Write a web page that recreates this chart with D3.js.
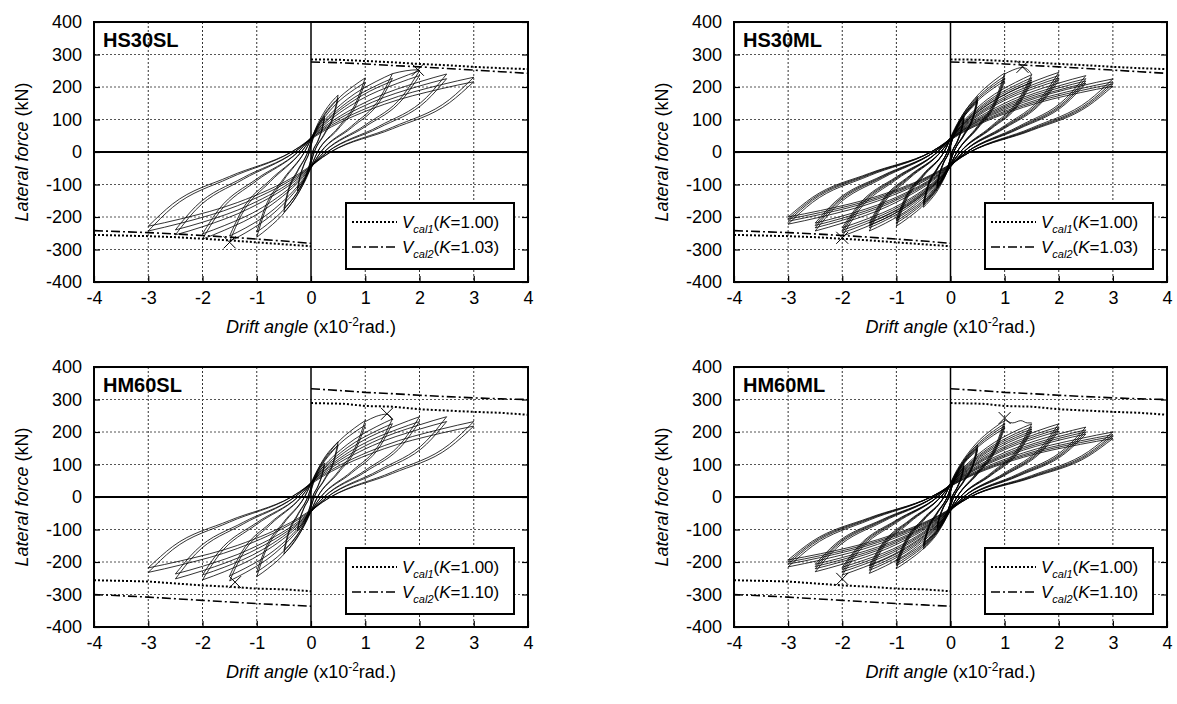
<!DOCTYPE html>
<html>
<head>
<meta charset="utf-8">
<script src="https://cdnjs.cloudflare.com/ajax/libs/d3/7.8.5/d3.min.js"></script>
<style>
  body { margin: 0; background: #fff; }
  svg { display: block; }
  text { font-family: "Liberation Sans", Arial, sans-serif; fill: #000; }
</style>
</head>
<body>
<div id="chart"></div>
<script>
// ---- données ----
var xTicks = [-4, -3, -2, -1, 0, 1, 2, 3, 4];
var yTicks = [-400, -300, -200, -100, 0, 100, 200, 300, 400];

// amplitudes de chargement (x10^-2 rad)
var amps = [0.25, 0.5, 1, 1.5, 2, 2.5, 3];

// abscisses des branches (montée = "up", descente = "lo"), par amplitude
var upX = [
  [-0.25, -0.21, -0.13, -0.03, 0.02, 0.11, 0.2, 0.25],
  [-0.5, -0.43, -0.25, -0.06, 0.04, 0.23, 0.4, 0.5],
  [-1, -0.85, -0.5, -0.12, 0.08, 0.45, 0.8, 1],
  [-1.5, -1.28, -0.75, -0.18, 0.12, 0.68, 1.2, 1.5],
  [-2, -1.7, -1, -0.24, 0.16, 0.9, 1.6, 2],
  [-2.5, -2.13, -1.25, -0.3, 0.2, 1.13, 2, 2.5],
  [-3, -2.55, -1.5, -0.36, 0.24, 1.35, 2.4, 3]
];
var loX = [
  [-0.25, -0.2, -0.11, -0.02, 0.03, 0.13, 0.21, 0.25],
  [-0.5, -0.4, -0.23, -0.04, 0.06, 0.25, 0.43, 0.5],
  [-1, -0.8, -0.45, -0.08, 0.12, 0.5, 0.85, 1],
  [-1.5, -1.2, -0.68, -0.12, 0.18, 0.75, 1.28, 1.5],
  [-2, -1.6, -0.9, -0.16, 0.24, 1, 1.7, 2],
  [-2.5, -2, -1.13, -0.2, 0.3, 1.25, 2.13, 2.5],
  [-3, -2.4, -1.35, -0.24, 0.36, 1.5, 2.55, 3]
];

// HS30SL
var upF_HS30SL = [
  [-120, -84, -40, 0, 33, 75, 99, 110],
  [-185, -130, -61, 0, 53, 119, 158, 175],
  [-262, -183, -86, 0, 68, 155, 205, 228],
  [-275, -193, -91, 0, 72, 164, 217, 241],
  [-268, -188, -88, 0, 75, 170, 225, 250],
  [-255, -179, -84, 0, 72, 163, 216, 240],
  [-243, -170, -80, 0, 69, 156, 207, 230]
];
var loF_HS30SL = [
  [-120, -108, -82, -36, 0, 36, 77, 110],
  [-185, -167, -126, -56, 0, 58, 123, 175],
  [-262, -236, -178, -79, 0, 75, 160, 228],
  [-275, -248, -187, -83, 0, 80, 169, 241],
  [-268, -241, -182, -80, 0, 83, 175, 250],
  [-255, -230, -173, -77, 0, 79, 168, 240],
  [-243, -219, -165, -73, 0, 76, 161, 230]
];
// HS30ML
var upF_HS30ML = [
  [-110, -77, -36, 0, 33, 75, 99, 110],
  [-170, -119, -56, 0, 51, 116, 153, 170],
  [-228, -160, -75, 0, 73, 165, 219, 243],
  [-243, -170, -80, 0, 71, 162, 214, 238],
  [-259, -181, -85, 0, 74, 167, 221, 245],
  [-243, -170, -80, 0, 71, 160, 212, 235],
  [-222, -155, -73, 0, 68, 153, 203, 225]
];
var loF_HS30ML = [
  [-110, -99, -75, -33, 0, 36, 77, 110],
  [-170, -153, -116, -51, 0, 56, 119, 170],
  [-228, -205, -155, -68, 0, 80, 170, 243],
  [-243, -219, -165, -73, 0, 79, 167, 238],
  [-259, -233, -176, -78, 0, 81, 172, 245],
  [-243, -219, -165, -73, 0, 78, 165, 235],
  [-222, -200, -151, -67, 0, 74, 158, 225]
];
// HM60SL
var upF_HM60SL = [
  [-105, -74, -35, 0, 32, 71, 95, 105],
  [-175, -123, -58, 0, 51, 116, 153, 170],
  [-245, -172, -81, 0, 71, 160, 212, 235],
  [-258, -181, -85, 0, 72, 163, 216, 240],
  [-255, -179, -84, 0, 74, 168, 222, 247],
  [-252, -176, -83, 0, 74, 168, 222, 247],
  [-232, -162, -77, 0, 70, 158, 209, 232]
];
var loF_HM60SL = [
  [-105, -95, -71, -32, 0, 35, 74, 105],
  [-175, -158, -119, -53, 0, 56, 119, 170],
  [-245, -221, -167, -74, 0, 78, 165, 235],
  [-258, -232, -175, -77, 0, 79, 168, 240],
  [-255, -230, -173, -77, 0, 82, 173, 247],
  [-252, -227, -171, -76, 0, 82, 173, 247],
  [-232, -209, -158, -70, 0, 77, 162, 232]
];
// HM60ML
var upF_HM60ML = [
  [-100, -70, -33, 0, 30, 68, 90, 100],
  [-160, -112, -53, 0, 48, 109, 144, 160],
  [-220, -154, -73, 0, 71, 160, 212, 235],
  [-235, -165, -78, 0, 68, 153, 203, 225],
  [-240, -168, -79, 0, 68, 153, 203, 225],
  [-230, -161, -76, 0, 65, 146, 194, 215],
  [-215, -151, -71, 0, 60, 136, 180, 200]
];
var loF_HM60ML = [
  [-100, -90, -68, -30, 0, 33, 70, 100],
  [-160, -144, -109, -48, 0, 53, 112, 160],
  [-220, -198, -150, -66, 0, 78, 165, 235],
  [-235, -212, -160, -71, 0, 74, 158, 225],
  [-240, -216, -163, -72, 0, 74, 158, 225],
  [-230, -207, -156, -69, 0, 71, 151, 215],
  [-215, -194, -146, -65, 0, 66, 140, 200]
];

// cycles répétés : baisse de résistance d'un cycle à l'autre
var rep_SL = [1, 0.94];
var rep_ML = [1, 0.96, 0.93, 0.9];

// courbes au-delà du pic (avant le point x)
var extra_HS30SL = [[1.5, 241], [1.75, 250], [1.97, 253], [2, 250]];
var extra_HS30ML = [[1.0, 240], [1.15, 252], [1.33, 260], [1.45, 250], [1.5, 238]];
var extra_HM60SL = [[1.0, 232], [1.2, 248], [1.4, 255], [1.5, 240]];
var extra_HM60ML = [[1.0, 238], [1.15, 228], [1.3, 235], [1.42, 228], [1.5, 228]];

// points "x"
var marks_HS30SL = [[1.97, 253], [-1.5, -278]];
var marks_HS30ML = [[1.33, 262], [-2.0, -264]];
var marks_HM60SL = [[1.4, 256], [-1.4, -262]];
var marks_HM60ML = [[1.0, 243], [-2.0, -252]];

// Vcal1 / Vcal2
var cal1Pos_HS30 = [[0, 285], [0.5, 284], [1, 280], [1.5, 276], [2, 271], [2.5, 267], [3, 262], [3.5, 258], [4, 255]];
var cal1Neg_HS30 = [[-4, -255], [-3, -259], [-2.5, -262], [-2, -267], [-1.5, -272], [-1, -278], [-0.5, -284], [0, -290]];
var cal2Pos_HS30 = [[0, 277], [0.5, 275], [1, 271], [1.5, 266], [2, 262], [2.5, 257], [3, 252], [3.5, 247], [4, 242]];
var cal2Neg_HS30 = [[-4, -242], [-3, -248], [-2.5, -252], [-2, -257], [-1.5, -262], [-1, -268], [-0.5, -274], [0, -281]];
var cal1Pos_HM60 = [[0, 289], [0.6, 287], [1, 280], [1.5, 278], [2, 270], [2.5, 266], [3, 262], [3.5, 259], [4, 253]];
var cal1Neg_HM60 = [[-4, -256], [-3, -260], [-2.5, -266], [-2, -272], [-1.5, -276], [-1, -282], [-0.5, -284], [0, -290]];
var cal2Pos_HM60 = [[0, 333], [0.5, 328], [1, 322], [1.5, 318], [2, 313], [2.5, 309], [3, 305], [3.5, 302], [4, 300]];
var cal2Neg_HM60 = [[-4, -300], [-3, -308], [-2.5, -313], [-2, -318], [-1.5, -323], [-1, -328], [-0.5, -332], [0, -336]];

var panels = [
  {name: "HS30SL", left: 94, top: 22, w: 434, h: 260, up: upF_HS30SL, lo: loF_HS30SL, rep: rep_SL, extra: extra_HS30SL, marks: marks_HS30SL,
   c1: [cal1Pos_HS30, cal1Neg_HS30], c2: [cal2Pos_HS30, cal2Neg_HS30], k: "1.03"},
  {name: "HS30ML", left: 734, top: 22, w: 433, h: 260, up: upF_HS30ML, lo: loF_HS30ML, rep: rep_ML, extra: extra_HS30ML, marks: marks_HS30ML,
   c1: [cal1Pos_HS30, cal1Neg_HS30], c2: [cal2Pos_HS30, cal2Neg_HS30], k: "1.03"},
  {name: "HM60SL", left: 94, top: 367, w: 434, h: 260, up: upF_HM60SL, lo: loF_HM60SL, rep: rep_SL, extra: extra_HM60SL, marks: marks_HM60SL,
   c1: [cal1Pos_HM60, cal1Neg_HM60], c2: [cal2Pos_HM60, cal2Neg_HM60], k: "1.10"},
  {name: "HM60ML", left: 734, top: 367, w: 433, h: 260, up: upF_HM60ML, lo: loF_HM60ML, rep: rep_ML, extra: extra_HM60ML, marks: marks_HM60ML,
   c1: [cal1Pos_HM60, cal1Neg_HM60], c2: [cal2Pos_HM60, cal2Neg_HM60], k: "1.10"}
];

var svg = d3.select("#chart").append("svg")
    .attr("width", 1177)
    .attr("height", 704);

panels.forEach(function (p) {
    var x = d3.scaleLinear().domain([-4, 4]).range([p.left, p.left + p.w]);
    var y = d3.scaleLinear().domain([-400, 400]).range([p.top + p.h, p.top]);
    var g = svg.append("g");

    // grille pointillée
    g.append("g").selectAll("line")
        .data(xTicks.filter(function (d) { return d > -4 && d < 4 && d !== 0; }))
        .join("line")
        .attr("x1", function (d) { return x(d); }).attr("x2", function (d) { return x(d); })
        .attr("y1", y(400)).attr("y2", y(-400))
        .attr("stroke", "#333").attr("stroke-width", 1).attr("stroke-dasharray", "2,2");
    g.append("g").selectAll("line")
        .data(yTicks.filter(function (d) { return d > -400 && d < 400 && d !== 0; }))
        .join("line")
        .attr("y1", function (d) { return y(d); }).attr("y2", function (d) { return y(d); })
        .attr("x1", x(-4)).attr("x2", x(4))
        .attr("stroke", "#555").attr("stroke-width", 1).attr("stroke-dasharray", "2,2");

    // axes (ticks vers l'intérieur)
    var ax = g.append("g").attr("transform", "translate(" + p.left + ",0)")
        .call(d3.axisLeft(y).tickValues(yTicks).tickSize(-6).tickPadding(12)
            .tickFormat(function (d) { return String(d); }));
    var bx = g.append("g").attr("transform", "translate(0," + (p.top + p.h) + ")")
        .call(d3.axisBottom(x).tickValues(xTicks).tickSize(-6).tickPadding(9)
            .tickFormat(function (d) { return String(d); }));
    var rx = g.append("g").attr("transform", "translate(" + (p.left + p.w) + ",0)")
        .call(d3.axisRight(y).tickValues(yTicks).tickSize(-6).tickFormat(""));
    [ax, bx, rx].forEach(function (a) {
        a.select(".domain").remove();
        a.selectAll(".tick line").attr("stroke", "#000").attr("stroke-width", 1.2);
        a.selectAll(".tick text").attr("font-size", 18).attr("font-family", "'Liberation Sans', Arial, sans-serif").attr("fill", "#000");
    });

    // axes zéro
    g.append("line").attr("x1", x(0)).attr("x2", x(0)).attr("y1", y(400)).attr("y2", y(-400))
        .attr("stroke", "#000").attr("stroke-width", 1.5);
    g.append("line").attr("x1", x(-4)).attr("x2", x(4)).attr("y1", y(0)).attr("y2", y(0))
        .attr("stroke", "#000").attr("stroke-width", 2);

    // Vcal
    var calLine = d3.line().x(function (d) { return x(d[0]); }).y(function (d) { return y(d[1]); });
    p.c1.forEach(function (c) {
        g.append("path").attr("d", calLine(c)).attr("fill", "none")
            .attr("stroke", "#000").attr("stroke-width", 2).attr("stroke-dasharray", "2,2");
    });
    p.c2.forEach(function (c) {
        g.append("path").attr("d", calLine(c)).attr("fill", "none")
            .attr("stroke", "#000").attr("stroke-width", 1.6).attr("stroke-dasharray", "9,3,2,3");
    });

    // boucles d'hystérésis
    var loopLine = d3.line().x(function (d) { return x(d[0]); }).y(function (d) { return y(d[1]); })
        .curve(d3.curveMonotoneX);
    var loops = g.append("g").attr("fill", "none").attr("stroke", "#000").attr("stroke-width", 0.8);
    amps.forEach(function (a, i) {
        p.rep.forEach(function (f) {
            var up = upX[i].map(function (v, j) { return [v, p.up[i][j] * f]; });
            var lo = loX[i].map(function (v, j) { return [v, p.lo[i][j] * f]; });
            loops.append("path").attr("d", loopLine(up));
            loops.append("path").attr("d", loopLine(lo));
        });
    });
    loops.append("path").attr("d", loopLine(p.extra));

    // marques x
    p.marks.forEach(function (m) {
        var cx = x(m[0]), cy = y(m[1]);
        g.append("path")
            .attr("d", "M" + (cx - 6) + "," + (cy - 6) + "L" + (cx + 6) + "," + (cy + 6) +
                "M" + (cx - 6) + "," + (cy + 6) + "L" + (cx + 6) + "," + (cy - 6))
            .attr("stroke", "#000").attr("stroke-width", 1);
    });

    // cadre
    g.append("rect").attr("x", p.left).attr("y", p.top).attr("width", p.w).attr("height", p.h)
        .attr("fill", "none").attr("stroke", "#000").attr("stroke-width", 2);

    // titre
    g.append("text").attr("x", p.left + 9).attr("y", p.top + 25)
        .attr("font-size", 20).attr("font-weight", "bold").text(p.name);

    // légende
    var lx = p.left + p.w - 182, ly = p.top + 181;
    var leg = g.append("g");
    leg.append("rect").attr("x", lx).attr("y", ly).attr("width", 168).attr("height", 66)
        .attr("fill", "#fff").attr("stroke", "#000").attr("stroke-width", 2);
    var rows = [{dash: "2,2", w: 2, sub: "cal1", k: "1.00"}, {dash: "9,3,2,3", w: 1.6, sub: "cal2", k: p.k}];
    rows.forEach(function (r, i) {
        var yy = ly + 19 + i * 25;
        leg.append("line").attr("x1", lx + 6).attr("x2", lx + 51).attr("y1", yy).attr("y2", yy)
            .attr("stroke", "#000").attr("stroke-width", r.w).attr("stroke-dasharray", r.dash);
        var t = leg.append("text").attr("x", lx + 56).attr("y", yy + 6).attr("font-size", 17);
        t.append("tspan").attr("font-style", "italic").text("V");
        t.append("tspan").attr("font-style", "italic").attr("font-size", 11).attr("dy", 5).text(r.sub);
        t.append("tspan").attr("dy", -5).text("(");
        t.append("tspan").attr("font-style", "italic").text("K");
        t.append("tspan").text("=" + r.k + ")");
    });

    // titres des axes
    var yl = g.append("text")
        .attr("transform", "translate(" + (p.left - 72) + "," + (p.top + p.h / 2) + ") rotate(-90)")
        .attr("text-anchor", "middle").attr("dy", "0.35em").attr("font-size", 18);
    yl.append("tspan").attr("font-style", "italic").text("Lateral force");
    yl.append("tspan").text(" (kN)");

    var xl = g.append("text")
        .attr("x", p.left + p.w / 2).attr("y", p.top + p.h + 51)
        .attr("text-anchor", "middle").attr("font-size", 18);
    xl.append("tspan").attr("font-style", "italic").text("Drift angle");
    xl.append("tspan").text(" (x10");
    xl.append("tspan").attr("font-size", 12).attr("dy", -7).text("-2");
    xl.append("tspan").attr("dy", 7).text("rad.)");
});
</script>
</body>
</html>
